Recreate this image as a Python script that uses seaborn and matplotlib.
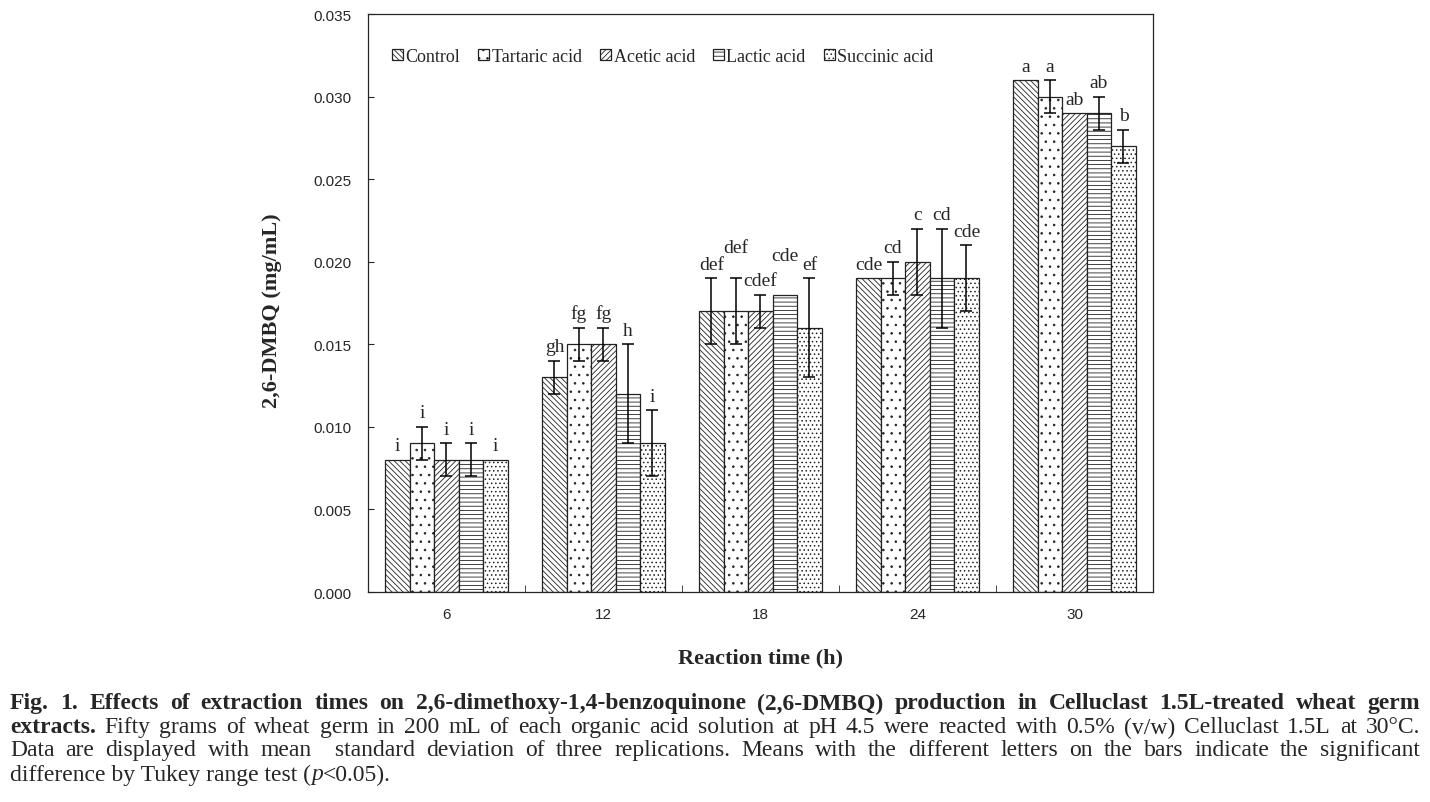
# 2,6-DMBQ production over reaction time for each organic acid treatment
import numpy as np
import pandas as pd
import matplotlib
matplotlib.use("Agg")
import matplotlib.pyplot as plt
import seaborn as sns

times = ["6", "12", "18", "24", "30"]
acids = ["Control", "Tartaric acid", "Acetic acid", "Lactic acid", "Succinic acid"]

control = [0.008, 0.013, 0.017, 0.019, 0.031]
tartaric = [0.009, 0.015, 0.017, 0.019, 0.030]
acetic = [0.008, 0.015, 0.017, 0.020, 0.029]
lactic = [0.008, 0.012, 0.018, 0.019, 0.029]
succinic = [0.008, 0.009, 0.016, 0.019, 0.027]

control_sd = [0.0, 0.001, 0.002, 0.0, 0.0]
tartaric_sd = [0.001, 0.001, 0.002, 0.001, 0.001]
acetic_sd = [0.001, 0.001, 0.001, 0.002, 0.0]
lactic_sd = [0.001, 0.003, 0.0, 0.003, 0.001]
succinic_sd = [0.0, 0.002, 0.003, 0.002, 0.001]

control_let = ["i", "gh", "def", "cde", "a"]
tartaric_let = ["i", "fg", "def", "cd", "a"]
acetic_let = ["i", "fg", "cdef", "c", "ab"]
lactic_let = ["i", "h", "cde", "cd", "ab"]
succinic_let = ["i", "i", "ef", "cde", "b"]

means = [control, tartaric, acetic, lactic, succinic]
sds = [control_sd, tartaric_sd, acetic_sd, lactic_sd, succinic_sd]
letters = [control_let, tartaric_let, acetic_let, lactic_let, succinic_let]

df = pd.DataFrame({
    "Time": np.tile(times, len(acids)),
    "Acid": np.repeat(acids, len(times)),
    "DMBQ": np.concatenate(means),
})

sns.set_style("ticks")
plt.rcParams["font.family"] = ["Liberation Serif", "DejaVu Serif"]
plt.rcParams["hatch.linewidth"] = 0.6

fig = plt.figure(figsize=(14.3, 8.03), dpi=100)
ax = fig.add_axes([0.2573, 0.2615, 0.5490, 0.7198])

sns.barplot(data=df, x="Time", y="DMBQ", hue="Acid", order=times, hue_order=acids,
            palette=["white"] * 5, edgecolor="#222222", linewidth=0.9,
            width=0.78, errorbar=None, legend=False, ax=ax)

bar_groups = list(ax.containers)
hatches = ["\\" * 6, "..", "/" * 6, "----", "...."]
# extra lift for a few letters that sit higher in the original
lift = {(1, 2): 12, (3, 2): 18}
for i, cont in enumerate(bar_groups):
    xs = []
    for bar in cont.patches:
        bar.set_hatch(hatches[i])
        xs.append(bar.get_x() + bar.get_width() / 2)
    # only draw whiskers where there is a spread
    has_sd = [k for k, s in enumerate(sds[i]) if s > 0]
    ax.errorbar([xs[k] for k in has_sd], [means[i][k] for k in has_sd],
                yerr=[sds[i][k] for k in has_sd], fmt="none", ecolor="black",
                elinewidth=1.1, capsize=4.5, capthick=1.1)
    for j, x in enumerate(xs):
        top = means[i][j] + sds[i][j]
        ax.annotate(letters[i][j], (x, top), xytext=(0, 4 + lift.get((i, j), 0)),
                    textcoords="offset points", ha="center", va="bottom", fontsize=14)

ax.legend(handles=[c.patches[0] for c in bar_groups], labels=acids,
          loc="upper left", bbox_to_anchor=(0.01, 0.97), ncol=5, frameon=False,
          fontsize=13, handlelength=0.6, handleheight=0.6, handletextpad=0.15,
          columnspacing=1.0)

ax.set_ylim(0, 0.035)
ax.set_xlim(-0.5, 4.5)
yt = np.arange(0, 0.0351, 0.005)
ax.set_yticks(yt)
ax.set_yticklabels([f"{v:.3f}" for v in yt], family="Liberation Sans", fontsize=11)
ax.set_xticks(range(5))
ax.set_xticklabels(times, family="Liberation Sans", fontsize=11)
ax.tick_params(axis="x", which="major", length=0, pad=11)
ax.set_xticks(np.arange(0.5, 4.0, 1.0), minor=True)
ax.tick_params(axis="x", which="minor", direction="in", length=5)
ax.tick_params(axis="y", direction="in", length=4, pad=12)
for s in ax.spines.values():
    s.set_visible(True)
    s.set_linewidth(0.9)

ax.set_xlabel("Reaction time (h)", fontsize=16, fontweight="bold", labelpad=19)
ax.set_ylabel("2,6-DMBQ (mg/mL)", fontsize=16, fontweight="bold")
ax.yaxis.set_label_coords(-0.11, 0.488)

# caption, justified like the journal page
cap_lines = [
    [("Fig. 1. Effects of extraction times on 2,6-dimethoxy-1,4-benzoquinone (2,6-DMBQ) production in Celluclast 1.5L-treated wheat germ", "bold", "normal")],
    [("extracts.", "bold", "normal"),
     ("Fifty grams of wheat germ in 200 mL of each organic acid solution at pH 4.5 were reacted with 0.5% (v/w) Celluclast 1.5L at 30\u00b0C.", "normal", "normal")],
    [("Data are displayed with mean \u2002standard deviation of three replications. Means with the different letters on the bars indicate the significant", "normal", "normal")],
]
cap_size = 17
renderer = fig.canvas.get_renderer()
x0, x1 = 10 / 1430, 1420 / 1430
ys = [1 - 704 / 803, 1 - 728 / 803, 1 - 751 / 803]
for line, y in zip(cap_lines, ys):
    words = []
    for txt, w, st in line:
        for wd in txt.split(" "):
            if wd:
                words.append((wd, w, st))
    objs = [fig.text(0, y, wd, fontsize=cap_size, fontweight=w, style=st, va="center")
            for wd, w, st in words]
    widths = [o.get_window_extent(renderer).width / 1430 for o in objs]
    gap = (x1 - x0 - sum(widths)) / (len(objs) - 1)
    x = x0
    for o, wdt in zip(objs, widths):
        o.set_x(x)
        x += wdt + gap

last = [("difference by Tukey range test (", "normal"), ("p", "italic"), ("<0.05).", "normal")]
x = x0
for txt, st in last:
    t = fig.text(x, 1 - 775 / 803, txt, fontsize=cap_size, style=st, va="center")
    x += t.get_window_extent(renderer).width / 1430

fig.savefig("out.png", dpi=100)
